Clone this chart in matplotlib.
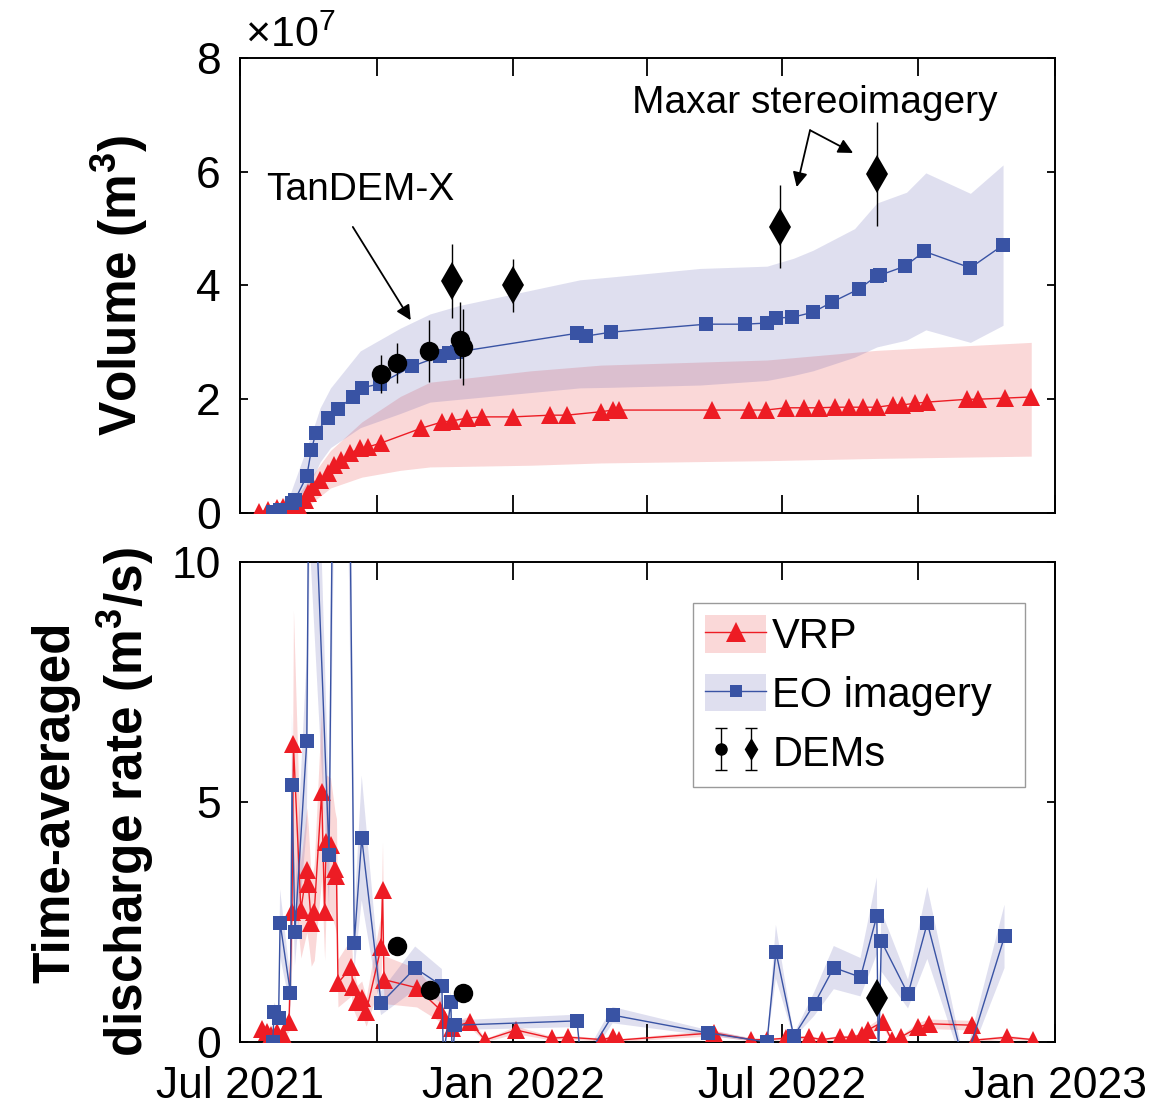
import numpy as np
import pandas as pd
import matplotlib
matplotlib.use('Agg')
import matplotlib.pyplot as plt
from matplotlib.patches import Patch
from matplotlib.lines import Line2D
from matplotlib.legend_handler import HandlerTuple

plt.rcParams['font.family'] = ['Liberation Sans', 'DejaVu Sans']
plt.rcParams['mathtext.fontset'] = 'custom'
plt.rcParams['mathtext.rm'] = 'Liberation Sans'
plt.rcParams['mathtext.bf'] = 'Liberation Sans:bold'

RED = '#ed1c24'
BLUE = '#3953a4'
RED_BAND = '#e62828'
BLUE_BAND = '#5050aa'
BAND_ALPHA = 0.18

# ---- cumulative volume (units of 1e7 m^3) ----
vrp_dates = pd.to_datetime([
    '2021-07-14', '2021-07-20', '2021-07-26', '2021-07-30', '2021-08-05', '2021-08-10',
    '2021-08-14', '2021-08-16', '2021-08-19', '2021-08-24', '2021-08-29', '2021-09-02',
    '2021-09-07', '2021-09-13', '2021-09-20', '2021-09-25', '2021-10-04', '2021-10-31',
    '2021-11-14', '2021-11-21', '2021-12-01', '2021-12-11', '2022-01-01', '2022-01-26',
    '2022-02-06', '2022-03-01', '2022-03-09', '2022-03-13', '2022-05-15', '2022-06-09',
    '2022-06-20', '2022-07-04', '2022-07-16', '2022-07-26', '2022-08-06', '2022-08-15',
    '2022-08-25', '2022-09-03', '2022-09-14', '2022-09-20', '2022-09-29', '2022-10-07',
    '2022-11-03', '2022-11-10', '2022-11-28', '2022-12-16'])
vrp_vol = [0.02, 0.05, 0.08, 0.1, 0.1, 0.1, 0.23, 0.35, 0.46, 0.58, 0.7, 0.84,
           0.93, 1.05, 1.14, 1.16, 1.23, 1.49, 1.6, 1.62, 1.67, 1.69, 1.69, 1.72,
           1.72, 1.78, 1.81, 1.81, 1.81, 1.81, 1.81, 1.85, 1.85, 1.85, 1.86, 1.86,
           1.86, 1.86, 1.9, 1.9, 1.93, 1.95, 2.0, 2.0, 2.02, 2.04]

vrp_band_dates = pd.to_datetime([
    '2021-07-13', '2021-08-07', '2021-08-17', '2021-08-31', '2021-09-21', '2021-10-17',
    '2021-11-06', '2022-01-13', '2022-03-01', '2022-06-21', '2022-09-03', '2022-12-16'])
vrp_band_lo = [0.0, 0.05, 0.15, 0.44, 0.63, 0.75, 0.81, 0.84, 0.88, 0.92, 0.96, 1.0]
vrp_band_hi = [0.03, 0.25, 0.6, 1.1, 1.6, 2.05, 2.3, 2.5, 2.6, 2.69, 2.86, 3.0]

eo_dates = pd.to_datetime([
    '2021-07-23', '2021-07-28', '2021-08-05', '2021-08-07', '2021-08-15', '2021-08-18',
    '2021-08-21', '2021-08-29', '2021-09-05', '2021-09-15', '2021-09-21', '2021-10-03',
    '2021-10-25', '2021-11-13', '2021-11-19', '2021-11-24', '2022-02-13', '2022-02-19',
    '2022-03-08', '2022-05-11', '2022-06-06', '2022-06-21', '2022-06-27', '2022-07-08',
    '2022-07-22', '2022-08-04', '2022-08-22', '2022-09-03', '2022-09-05', '2022-09-22',
    '2022-10-05', '2022-11-05', '2022-11-27'])
eo_vol = [0.02, 0.05, 0.18, 0.23, 0.65, 1.1, 1.4, 1.67, 1.83, 2.04, 2.2, 2.27,
          2.58, 2.76, 2.81, 2.83, 3.16, 3.11, 3.18, 3.32, 3.32, 3.34, 3.43, 3.44,
          3.53, 3.71, 3.94, 4.17, 4.18, 4.34, 4.6, 4.31, 4.71]

eo_band_dates = pd.to_datetime([
    '2021-07-21', '2021-08-04', '2021-08-17', '2021-08-24', '2021-08-31', '2021-09-20',
    '2021-10-17', '2021-11-06', '2021-11-26', '2022-02-15', '2022-03-08', '2022-05-07',
    '2022-06-21', '2022-07-09', '2022-07-22', '2022-08-19', '2022-09-03', '2022-09-23',
    '2022-10-06', '2022-11-05', '2022-11-27'])
eo_band_lo = [0.0, 0.1, 0.5, 0.9, 1.15, 1.5, 1.75, 1.95, 2.0, 2.2, 2.21, 2.25,
              2.33, 2.42, 2.5, 2.74, 2.92, 3.04, 3.22, 3.0, 3.3]
eo_band_hi = [0.05, 0.35, 1.3, 1.85, 2.2, 2.85, 3.25, 3.5, 3.65, 4.1, 4.15, 4.3,
              4.34, 4.48, 4.62, 5.0, 5.45, 5.64, 5.98, 5.62, 6.12]

# DEM volumes: TanDEM-X (circles) and Maxar (diamonds)
tdx_dates = pd.to_datetime(['2021-10-04', '2021-10-15', '2021-11-05', '2021-11-26', '2021-11-28'])
tdx_vol = [2.44, 2.64, 2.85, 3.04, 2.92]
tdx_err = [0.33, 0.35, 0.55, 0.67, 0.67]
maxar_dates = pd.to_datetime(['2021-11-21', '2022-01-01', '2022-06-30', '2022-09-03'])
maxar_vol = [4.08, 4.0, 5.03, 5.96]
maxar_err = [0.65, 0.47, 0.73, 0.92]

# ---- time-averaged discharge rate (m^3/s) ----
vrp_rate_dates = pd.to_datetime([
    '2021-07-16', '2021-07-19', '2021-07-22', '2021-07-26', '2021-07-30', '2021-08-03',
    '2021-08-05', '2021-08-06', '2021-08-11', '2021-08-15', '2021-08-16', '2021-08-18',
    '2021-08-20', '2021-08-25', '2021-08-27', '2021-08-28', '2021-08-31', '2021-09-03',
    '2021-09-04', '2021-09-05', '2021-09-14', '2021-09-15', '2021-09-18', '2021-09-21',
    '2021-09-24', '2021-10-04', '2021-10-05', '2021-10-06', '2021-10-28', '2021-11-13',
    '2021-11-16', '2021-11-21', '2021-12-03', '2021-12-13', '2022-01-03', '2022-01-27',
    '2022-02-07', '2022-03-02', '2022-03-09', '2022-03-13', '2022-05-16', '2022-06-10',
    '2022-06-21', '2022-07-04', '2022-07-19', '2022-07-28', '2022-08-09', '2022-08-17',
    '2022-08-24', '2022-08-28', '2022-09-07', '2022-09-13', '2022-09-19', '2022-10-01',
    '2022-10-08', '2022-11-06', '2022-11-08', '2022-11-30', '2022-12-17'])
vrp_rate = [0.28, 0.2, 0.15, 0.2, 0.15, 0.42, 2.7, 6.2, 2.75, 3.58, 3.3, 2.48,
            2.7, 5.2, 2.7, 4.17, 4.1, 3.6, 3.45, 1.23, 1.56, 1.15, 0.83, 0.92,
            0.63, 1.97, 3.17, 1.3, 1.13, 0.67, 0.46, 0.3, 0.42, 0.04, 0.25, 0.08,
            0.1, 0.05, 0.1, 0.04, 0.19, 0.05, 0.05, 0.08, 0.1, 0.05, 0.1, 0.1,
            0.15, 0.25, 0.42, 0.04, 0.1, 0.31, 0.38, 0.35, 0.04, 0.1, 0.05]
vrp_rate_err = [0.1, 0.08, 0.06, 0.08, 0.06, 0.2, 1.0, 2.8, 1.0, 1.3, 1.2, 0.9,
                1.0, 1.8, 1.0, 1.4, 1.4, 1.2, 1.2, 0.5, 0.6, 0.45, 0.35, 0.35,
                0.3, 0.7, 1.0, 0.5, 0.4, 0.25, 0.18, 0.12, 0.12, 0.03, 0.08, 0.04,
                0.04, 0.03, 0.04, 0.03, 0.06, 0.03, 0.03, 0.03, 0.04, 0.03, 0.04, 0.04,
                0.05, 0.08, 0.12, 0.03, 0.04, 0.1, 0.1, 0.1, 0.03, 0.04, 0.03]

eo_rate_dates = pd.to_datetime([
    '2021-07-23', '2021-07-24', '2021-07-27', '2021-07-28', '2021-08-04', '2021-08-05',
    '2021-08-07', '2021-08-15', '2021-08-17', '2021-08-30', '2021-09-07', '2021-09-16',
    '2021-09-21', '2021-10-04', '2021-10-27', '2021-11-14', '2021-11-15', '2021-11-20',
    '2021-11-21', '2021-11-23', '2022-02-13', '2022-02-16', '2022-03-09', '2022-05-12',
    '2022-06-21', '2022-06-27', '2022-07-09', '2022-07-23', '2022-08-05', '2022-08-23',
    '2022-09-03', '2022-09-04', '2022-09-06', '2022-09-24', '2022-10-07', '2022-11-01',
    '2022-11-28'])
eo_rate = [0.0, 0.62, 0.5, 2.48, 1.02, 5.35, 2.29, 6.27, 14.4, 3.9, 30.0, 2.07,
           4.25, 0.81, 1.54, 1.17, -0.3, 0.83, -0.3, 0.35, 0.44, -0.5, 0.56, 0.19,
           0.0, 1.88, 0.12, 0.8, 1.55, 1.35, 2.63, -0.5, 2.1, 1.0, 2.48, -0.5, 2.2]
eo_rate_err = [0.0, 0.2, 0.15, 0.7, 0.3, 1.5, 0.7, 1.8, 4.0, 1.1, 8.0, 0.6,
               1.3, 0.25, 0.45, 0.35, 0.1, 0.25, 0.1, 0.1, 0.13, 0.1, 0.17, 0.06,
               0.02, 0.56, 0.04, 0.25, 0.45, 0.4, 0.8, 0.1, 0.63, 0.3, 0.75, 0.1, 0.66]

tdx_rate_dates = pd.to_datetime(['2021-10-15', '2021-11-06', '2021-11-28'])
tdx_rate = [2.0, 1.08, 1.02]
maxar_rate_dates = pd.to_datetime(['2022-09-03'])
maxar_rate = [0.92]

tick_dates = pd.date_range('2021-07-01', '2023-01-01', freq='3MS')
tick_labels = ['Jul 2021', '', 'Jan 2022', '', 'Jul 2022', '', 'Jan 2023']

fig = plt.figure(figsize=(11.5, 11.08), dpi=100)
ax1 = fig.add_axes([240 / 1150, 1 - 513 / 1108, 815 / 1150, 455 / 1108])
ax2 = fig.add_axes([240 / 1150, 1 - 1042 / 1108, 815 / 1150, 480 / 1108])

# top panel
ax1.fill_between(vrp_band_dates, vrp_band_lo, vrp_band_hi, color=RED_BAND, alpha=BAND_ALPHA, lw=0, zorder=1)
ax1.fill_between(eo_band_dates, eo_band_lo, eo_band_hi, color=BLUE_BAND, alpha=BAND_ALPHA, lw=0, zorder=1)
ax1.plot(vrp_dates, vrp_vol, '-^', color=RED, lw=1, ms=13, mew=0, zorder=3)
ax1.plot(eo_dates, eo_vol, '-s', color=BLUE, lw=1, ms=9.5, mew=0, zorder=4)
ax1.errorbar(tdx_dates, tdx_vol, yerr=tdx_err, fmt='o', color='k', ms=14, mew=0,
             elinewidth=1, capsize=3, capthick=1, zorder=5)
ax1.errorbar(maxar_dates, maxar_vol, yerr=maxar_err, fmt='d', color='k', ms=19, mew=0,
             elinewidth=1, capsize=3, capthick=1, zorder=5)

arrow = dict(arrowstyle='-|>', color='k', lw=1.3, mutation_scale=22, shrinkA=0, shrinkB=0)
ax1.text(pd.Timestamp('2021-09-20'), 5.68, 'TanDEM-X', ha='center', va='center', fontsize=28)
ax1.annotate('', xy=(pd.Timestamp('2021-10-24'), 3.39), xytext=(pd.Timestamp('2021-09-15'), 5.03),
             arrowprops=arrow)
ax1.text(pd.Timestamp('2022-07-23'), 7.2, 'Maxar stereoimagery', ha='center', va='center', fontsize=28)
ax1.annotate('', xy=(pd.Timestamp('2022-07-11'), 5.73), xytext=(pd.Timestamp('2022-07-20'), 6.73),
             arrowprops=arrow)
ax1.annotate('', xy=(pd.Timestamp('2022-08-18'), 6.33), xytext=(pd.Timestamp('2022-07-20'), 6.73),
             arrowprops=arrow)

ax1.set_ylim(0, 8)
ax1.set_yticks([0, 2, 4, 6, 8])
fig.text(245 / 1150, 1 - 47 / 1108, '×10$^{7}$', ha='left', va='baseline', fontsize=31)

# bottom panel
ax2.fill_between(vrp_rate_dates, np.array(vrp_rate) - np.array(vrp_rate_err),
                 np.array(vrp_rate) + np.array(vrp_rate_err), color=RED_BAND, alpha=BAND_ALPHA, lw=0, zorder=1)
ax2.fill_between(eo_rate_dates, np.array(eo_rate) - np.array(eo_rate_err),
                 np.array(eo_rate) + np.array(eo_rate_err), color=BLUE_BAND, alpha=BAND_ALPHA, lw=0, zorder=1)
ax2.plot(vrp_rate_dates, vrp_rate, '-^', color=RED, lw=1, ms=13, mew=0, zorder=3)
ax2.plot(eo_rate_dates, eo_rate, '-s', color=BLUE, lw=1, ms=9.5, mew=0, zorder=4)
ax2.plot(tdx_rate_dates, tdx_rate, 'o', color='k', ms=14, mew=0, zorder=5)
ax2.plot(maxar_rate_dates, maxar_rate, 'd', color='k', ms=19, mew=0, zorder=5)
ax2.set_ylim(0, 10)
ax2.set_yticks([0, 5, 10])

for ax in (ax1, ax2):
    ax.set_xlim(pd.Timestamp('2021-07-01'), pd.Timestamp('2023-01-01'))
    ax.set_xticks(tick_dates)
    for sp in ax.spines.values():
        sp.set_linewidth(1.4)
    ax.tick_params(axis='x', direction='in', length=13, width=1.3, top=True, labelsize=32, pad=17)
    ax.tick_params(axis='y', direction='in', length=6, width=1.3, right=True, labelsize=32, pad=14)
ax1.set_xticklabels([])
ax2.set_xticklabels(tick_labels)

fig.text(150 / 1150, 1 - 285 / 1108, r'Volume (m$^{\mathbf{3}}$)', rotation=90, ha='right', va='center',
         fontsize=37, fontweight='bold')
fig.text(156 / 1150, 1 - 802 / 1108, 'Time-averaged\ndischarge rate (m$^{\\mathbf{3}}$/s)', rotation=90,
         ha='right', va='center', multialignment='center', linespacing=1.32,
         fontsize=37, fontweight='bold')

# legend
eb_c = ax2.errorbar([np.nan], [np.nan], yerr=[1], fmt='o', color='k', ms=8, elinewidth=1, capsize=4)
eb_d = ax2.errorbar([np.nan], [np.nan], yerr=[1], fmt='d', color='k', ms=10, elinewidth=1, capsize=4)
h_vrp = (Patch(facecolor=RED_BAND, alpha=BAND_ALPHA, lw=0),
         Line2D([], [], color=RED, lw=1, marker='^', ms=14, mew=0))
h_eo = (Patch(facecolor=BLUE_BAND, alpha=BAND_ALPHA, lw=0),
        Line2D([], [], color=BLUE, lw=1, marker='s', ms=9, mew=0))
h_dem = (eb_c, eb_d)
leg = ax2.legend([h_vrp, h_eo, h_dem], ['VRP', 'EO imagery', 'DEMs'],
                 handler_map={h_dem: HandlerTuple(ndivide=None, pad=0.0),
                              tuple: HandlerTuple(ndivide=1)},
                 loc='upper left', bbox_to_anchor=(0.5558, 0.5, 0.4074, 0.4146), mode='expand',
                 fontsize=30, frameon=True, fancybox=False,
                 edgecolor='#9a9a9a', framealpha=1, handlelength=1.45, handleheight=1.0,
                 handletextpad=0.15, labelspacing=0.4, borderpad=0.3, borderaxespad=0)
leg.get_frame().set_linewidth(1.0)

fig.savefig('out.png', dpi=100)
